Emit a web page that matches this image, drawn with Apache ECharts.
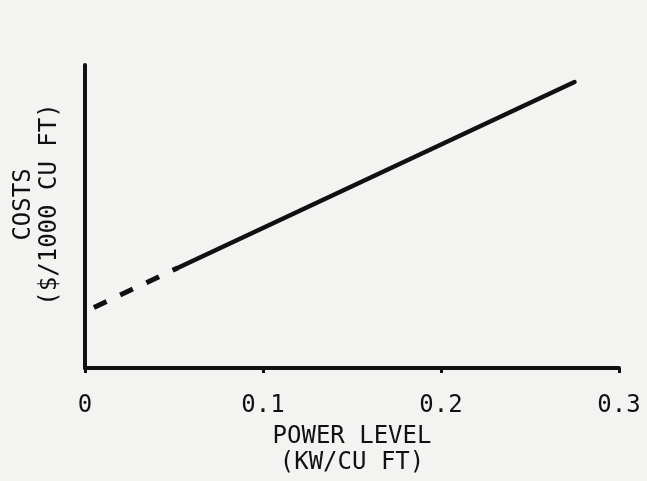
<!DOCTYPE html>
<html>
<head>
<meta charset="utf-8">
<script src="https://cdn.jsdelivr.net/npm/echarts@6/dist/echarts.min.js"></script>
<style>
  html, body { margin: 0; padding: 0; background: #f3f3f1; }
  #chart { width: 647px; height: 481px; }
</style>
</head>
<body>
<div id="chart"></div>
<script>
// power level (kW/cu ft) and cost (y axis has no scale)
var xTicks = [0, 0.1, 0.2, 0.3];
var powerDashed = [0.005, 0.052];
var costDashed = [20, 33];
var powerSolid = [0.052, 0.275];
var costSolid = [33, 94.4];

var ink = "#111";
var font = "DejaVu Sans Mono";

function pairs(xs, ys) {
  return xs.map(function (x, i) { return [x, ys[i]]; });
}

var myChart = echarts.init(document.getElementById("chart"));
var option = {
  backgroundColor: "#f3f3f1",
  animation: false,
  grid: { left: 85, right: 28, top: 65, bottom: 113 },
  xAxis: {
    type: "value",
    min: xTicks[0],
    max: xTicks[xTicks.length - 1],
    interval: 0.1,
    name: "POWER LEVEL\n(KW/CU FT)",
    nameLocation: "middle",
    nameGap: 56,
    nameTextStyle: { color: ink, fontFamily: font, fontSize: 24, lineHeight: 26 },
    axisLine: { lineStyle: { color: ink, width: 4 } },
    axisTick: { show: true, length: 5, lineStyle: { color: ink, width: 3 } },
    axisLabel: { color: ink, fontFamily: font, fontSize: 24, margin: 26 },
    splitLine: { show: false }
  },
  yAxis: {
    type: "value",
    min: 0,
    max: 100,
    name: "COSTS\n($/1000 CU FT)",
    nameLocation: "middle",
    nameRotate: 90,
    nameGap: 22,
    nameTextStyle: { color: ink, fontFamily: font, fontSize: 24, lineHeight: 26, padding: [0, 0, 0, 24] },
    axisLine: { show: true, lineStyle: { color: ink, width: 4 } },
    axisTick: { show: false },
    axisLabel: { show: false },
    splitLine: { show: false }
  },
  series: [
    {
      type: "line",
      data: pairs(powerDashed, costDashed),
      showSymbol: false,
      lineStyle: { color: ink, width: 5, type: [14, 15] }
    },
    {
      type: "line",
      data: pairs(powerSolid, costSolid),
      showSymbol: false,
      lineStyle: { color: ink, width: 4.5, cap: "round" }
    }
  ]
};
myChart.setOption(option);
</script>
</body>
</html>
